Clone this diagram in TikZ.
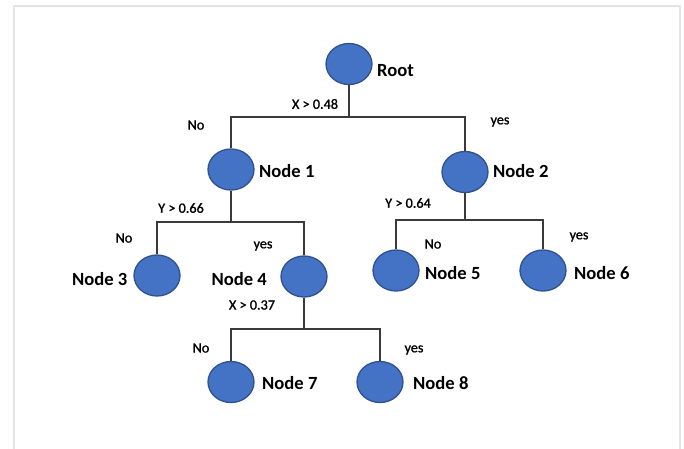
\documentclass[tikz,border=0pt]{standalone}
\usepackage{fontspec}
\setmainfont{Carlito}
\newfontfamily\condfont{Carlito}[FakeBold=1.2]
\usetikzlibrary{shapes.geometric}
\definecolor{nodefill}{HTML}{4472C4}
\definecolor{nodeedge}{HTML}{2F528F}
\definecolor{linecol}{HTML}{3A3A3A}
\definecolor{framecol}{HTML}{E4E4E4}
\begin{document}
\begin{tikzpicture}[x=1pt,y=-1pt,
  treenode/.style={ellipse,draw=nodeedge,fill=nodefill,line width=1.3pt,minimum width=46pt,minimum height=41pt,inner sep=0pt},
  nodelabel/.style={font=\fontsize{18.6}{20}\selectfont\bfseries,text=black,inner sep=0pt},
  condlabel/.style={font=\fontsize{14.2}{15}\condfont,text=black,inner sep=0pt},
  branch/.style={draw=linecol,line width=1.1pt}]
\useasboundingbox (0,0) rectangle (684,448);
\fill[white] (0,0) rectangle (684,448);
\draw[framecol,line width=1.2pt] (14,6) rectangle (680,470);
% nodes
\node[treenode] (root) at (349,64) {};
\node[treenode] (n1) at (231,169.5) {};
\node[treenode] (n2) at (465,172) {};
\node[treenode] (n3) at (157,275.5) {};
\node[treenode] (n4) at (304,276.5) {};
\node[treenode] (n5) at (396,270.5) {};
\node[treenode] (n6) at (543,270.5) {};
\node[treenode] (n7) at (231,382) {};
\node[treenode] (n8) at (380,382) {};
% bar coordinates
\coordinate (b0) at (0,117);
\coordinate (b1) at (0,222);
\coordinate (b2) at (0,220);
\coordinate (b4) at (0,329);
% connectors
\draw[branch] (root.south) -- (root |- b0);
\draw[branch] (n1.north) -- (n1 |- b0) -- (n2 |- b0) -- (n2.north);
\draw[branch] (n1.south) -- (n1 |- b1);
\draw[branch] (n3.north) -- (n3 |- b1) -- (n4 |- b1) -- (n4.north);
\draw[branch] (n2.south) -- (n2 |- b2);
\draw[branch] (n5.north) -- (n5 |- b2) -- (n6 |- b2) -- (n6.north);
\draw[branch] (n4.south) -- (n4 |- b4);
\draw[branch] (n7.north) -- (n7 |- b4) -- (n8 |- b4) -- (n8.north);
% node labels
\node[nodelabel,anchor=west] (lroot) at (377,71) {Root};
\node[nodelabel,anchor=west] (l1) at (259,171) {Node 1};
\node[nodelabel,anchor=west] (l2) at (493,171) {Node 2};
\node[nodelabel,anchor=east] (l3) at (127.5,279) {Node 3};
\node[nodelabel,anchor=east] (l4) at (267,279) {Node 4};
\node[nodelabel,anchor=west] (l5) at (425,273) {Node 5};
\node[nodelabel,anchor=west] (l6) at (574,273) {Node 6};
\node[nodelabel,anchor=west] (l7) at (262,383) {Node 7};
\node[nodelabel,anchor=west] (l8) at (413,383) {Node 8};
% condition labels
\node[condlabel] (c0) at (315,104) {X > 0.48};
\node[condlabel] (c1) at (181,208) {Y > 0.66};
\node[condlabel] (c2) at (408,203) {Y > 0.64};
\node[condlabel] (c4) at (252,305) {X > 0.37};
\node[condlabel] (no1) at (196,125) {No};
\node[condlabel] (yes2) at (500,122) {yes};
\node[condlabel] (no3) at (124,238) {No};
\node[condlabel] (yes4) at (263,246) {yes};
\node[condlabel] (no5) at (433,244) {No};
\node[condlabel] (yes6) at (579,237) {yes};
\node[condlabel] (no7) at (201,348) {No};
\node[condlabel] (yes8) at (414,350) {yes};
\end{tikzpicture}
\end{document}
